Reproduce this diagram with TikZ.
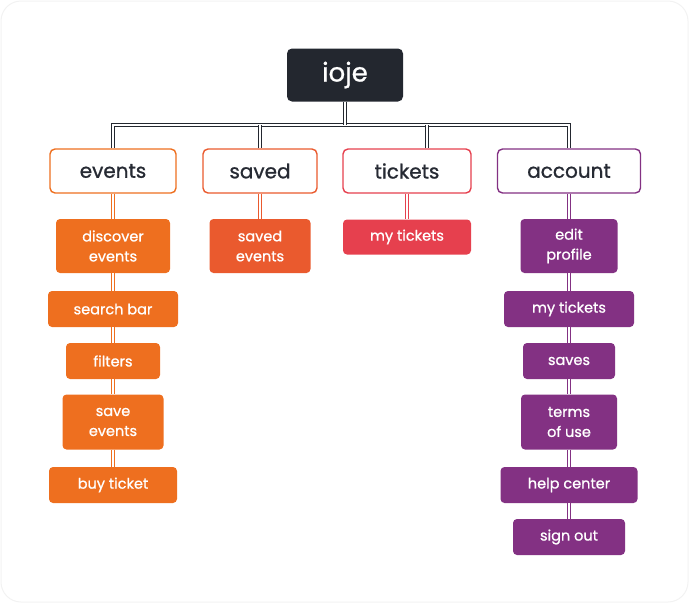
\documentclass[tikz,border=0pt]{standalone}
\usepackage{fontspec}
\setmainfont{Poppins}[BoldFont=Poppins,BoldFeatures={FakeBold=0.9}]
\usetikzlibrary{calc}
\definecolor{rootdark}{HTML}{23272F}
\definecolor{textdark}{HTML}{262A33}
\definecolor{evorange}{HTML}{EE6F1F}
\definecolor{svorange}{HTML}{EA5A2E}
\definecolor{tkred}{HTML}{E6404E}
\definecolor{acpurple}{HTML}{833183}

\begin{document}
\begin{tikzpicture}[x=1pt,y=-1pt,
    rootbox/.style={fill=rootdark,text=white,rounded corners=5pt,inner sep=0pt,
      minimum width=116pt,minimum height=53pt,font=\bfseries\fontsize{26}{30}\selectfont},
    catbox/.style={draw=#1,fill=white,line width=1.4pt,text=textdark,rounded corners=5pt,
      inner sep=0pt,minimum height=44pt,font=\bfseries\fontsize{20}{24}\selectfont},
    leaf/.style={fill=#1,text=white,rounded corners=4pt,inner sep=0pt,align=center,
      minimum height=36pt,font=\bfseries\fontsize{14.5}{20}\selectfont},
    link/.style={draw=#1,line width=1.2pt,double=white,double distance=1.8pt},
    link/.default=rootdark]
    \useasboundingbox (0,0) rectangle (689,603);
    \draw[black!5,line width=1pt,rounded corners=20pt] (1,1) rectangle (688,602);

    % top level
    \node[rootbox] (root) at (345,75) {\raisebox{-2pt}{ioje}};
    \node[catbox=evorange,minimum width=126pt] (events) at (113,171) {events};
    \node[catbox=svorange,minimum width=114pt] (saved) at (260,171) {saved};
    \node[catbox=tkred,minimum width=128pt] (tickets) at (407,171) {tickets};
    \node[catbox=acpurple,minimum width=143pt] (account) at (569,171) {account};

    % events column
    \node[leaf=evorange,minimum width=114pt,minimum height=54pt] (discover) at (113,246) {discover\\events};
    \node[leaf=evorange,minimum width=130pt] (search) at (113,309) {search bar};
    \node[leaf=evorange,minimum width=94pt] (filters) at (113,361) {filters};
    \node[leaf=evorange,minimum width=101pt,minimum height=55pt] (saveev) at (113,422) {save\\events};
    \node[leaf=evorange,minimum width=128pt] (buy) at (113,485) {buy ticket};

    % saved and tickets
    \node[leaf=svorange,minimum width=101pt,minimum height=54pt] (savedev) at (260,246) {saved\\events};
    \node[leaf=tkred,minimum width=128pt,minimum height=35pt] (mytk) at (407,237) {my tickets};

    % account column
    \node[leaf=acpurple,minimum width=97pt,minimum height=54pt] (edit) at (569,246) {edit\\profile};
    \node[leaf=acpurple,minimum width=130pt] (actk) at (569,309) {my tickets};
    \node[leaf=acpurple,minimum width=92pt] (saves) at (569,361) {saves};
    \node[leaf=acpurple,minimum width=96pt,minimum height=55pt] (terms) at (569,422) {terms\\of use};
    \node[leaf=acpurple,minimum width=137pt] (help) at (569,485) {help center};
    \node[leaf=acpurple,minimum width=112pt] (signout) at (569,537) {sign out};

    % tree lines
    \coordinate (bus) at (345,125);
    \coordinate (tkdrop) at ($(tickets.north)+(20,0)$);
    \draw[link] (events.north) |- (bus) -| (account.north);
    \draw[link] (saved.north) -- (saved.north |- bus);
    \draw[link] (tkdrop) -- (tkdrop |- bus);
    \draw[link] (root.south) -- (bus);

    \draw[link=evorange] (events) -- (discover);
    \draw[link=evorange] (discover) -- (search);
    \draw[link=evorange] (search) -- (filters);
    \draw[link=evorange] (filters) -- (saveev);
    \draw[link=evorange] (saveev) -- (buy);
    \draw[link=svorange] (saved) -- (savedev);
    \draw[link=tkred] (tickets) -- (mytk);
    \draw[link=acpurple] (account) -- (edit);
    \draw[link=acpurple] (edit) -- (actk);
    \draw[link=acpurple] (actk) -- (saves);
    \draw[link=acpurple] (saves) -- (terms);
    \draw[link=acpurple] (terms) -- (help);
    \draw[link=acpurple] (help) -- (signout);
\end{tikzpicture}
\end{document}
